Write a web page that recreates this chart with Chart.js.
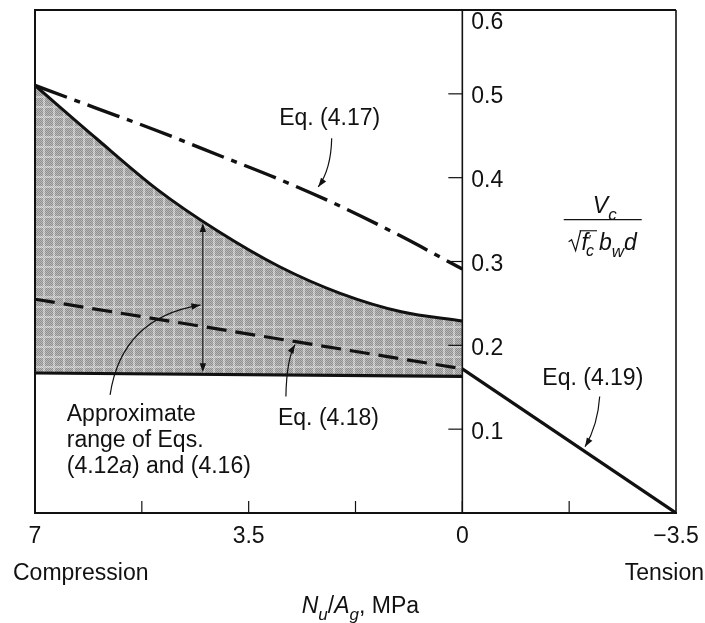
<!DOCTYPE html>
<html>
<head>
<meta charset="utf-8">
<title>Vc versus Nu/Ag</title>
<script src="https://cdn.jsdelivr.net/npm/chart.js@4.4.1/dist/chart.umd.min.js"></script>
<style>
  html, body { margin: 0; padding: 0; background: #fff; }
  canvas { display: block; }
</style>
</head>
<body>
<canvas id="chart" width="705" height="623"></canvas>
<script>
// axial stress Nu/Ag (MPa), compression positive
const NU_AG = [7, 6, 5, 4, 3, 2, 1, 0];
const EQ_417 = [0.51, 0.483, 0.456, 0.427, 0.398, 0.366, 0.330, 0.291];
const RANGE_UPPER = [0.51, 0.447, 0.386, 0.336, 0.294, 0.262, 0.240, 0.229];

const RANGE_LOWER_X = [7, 0];
const RANGE_LOWER = [0.167, 0.163];

const EQ_418_X = [7, 0];
const EQ_418 = [0.255, 0.172];

const EQ_419_X = [0, -3.5];
const EQ_419 = [0.172, 0];

const X_TICKS = [7, 5.25, 3.5, 1.75, 0, -1.75, -3.5];
const X_LABELS = ['7', '', '3.5', '', '0', '', '\u22123.5'];
const Y_TICKS = [0.1, 0.2, 0.3, 0.4, 0.5, 0.6];
const Y_LABELS = ['0.1', '0.2', '0.3', '0.4', '0.5', '0.6'];

const FONT = '"Liberation Sans", Arial, Helvetica, sans-serif';
const INK = '#111';

function points(xs, ys) {
    return xs.map((x, i) => ({ x: x, y: ys[i] }));
}

// grey plaid screen used for the shaded band
function makeScreen() {
    const c = document.createElement('canvas');
    c.width = 10;
    c.height = 10;
    const g = c.getContext('2d');
    g.fillStyle = '#b9b9b9';
    g.fillRect(0, 0, 10, 10);
    for (let i = 0; i < 10; i++) {
        for (let j = 0; j < 10; j++) {
            if ((i + j) % 2 === 0) {
                g.fillStyle = '#8e8e8e';
                g.fillRect(i, j, 1, 1);
            }
            if (i === 3 || i === 4 || j === 6 || j === 7) {
                g.fillStyle = (i + j) % 2 === 0 ? '#b4b4b4' : '#d8d8d8';
                g.fillRect(i, j, 1, 1);
            }
        }
    }
    return g.createPattern(c, 'repeat');
}

function setFont(ctx, size, italic) {
    ctx.font = (italic ? 'italic ' : '') + size + 'px ' + FONT;
}

// text made of runs: {t, it, sub, sup}; returns width
function drawRuns(ctx, runs, x, y, size, measureOnly) {
    let cx = x;
    for (const r of runs) {
        const s = (r.sub || r.sup) ? Math.round(size * 0.72) : size;
        setFont(ctx, s, r.it);
        const dy = r.sub ? size * 0.3 : (r.sup ? -size * 0.4 : 0);
        if (!measureOnly) ctx.fillText(r.t, cx, y + dy);
        cx += ctx.measureText(r.t).width;
    }
    return cx - x;
}

function arrowHead(ctx, fromX, fromY, toX, toY) {
    const a = Math.atan2(toY - fromY, toX - fromX);
    const len = 9, half = 3.2;
    ctx.beginPath();
    ctx.moveTo(toX, toY);
    ctx.lineTo(toX - len * Math.cos(a) + half * Math.sin(a), toY - len * Math.sin(a) - half * Math.cos(a));
    ctx.lineTo(toX - len * Math.cos(a) - half * Math.sin(a), toY - len * Math.sin(a) + half * Math.cos(a));
    ctx.closePath();
    ctx.fill();
}

function curvedArrow(ctx, xs, ys, p0, c, p1) {
    const x0 = xs.getPixelForValue(p0[0]), y0 = ys.getPixelForValue(p0[1]);
    const cx = xs.getPixelForValue(c[0]), cy = ys.getPixelForValue(c[1]);
    const x1 = xs.getPixelForValue(p1[0]), y1 = ys.getPixelForValue(p1[1]);
    ctx.beginPath();
    ctx.moveTo(x0, y0);
    ctx.quadraticCurveTo(cx, cy, x1, y1);
    ctx.stroke();
    arrowHead(ctx, cx, cy, x1, y1);
}

function label(ctx, xs, ys, text, x, y) {
    setFont(ctx, 23, false);
    ctx.textAlign = 'left';
    ctx.textBaseline = 'alphabetic';
    ctx.fillText(text, xs.getPixelForValue(x), ys.getPixelForValue(y));
}

const framePlugin = {
    id: 'frame',
    afterDraw(chart) {
        const ctx = chart.ctx;
        const area = chart.chartArea;
        const xs = chart.scales.x;
        const ys = chart.scales.y;
        const axisX = xs.getPixelForValue(0);

        ctx.save();
        ctx.strokeStyle = INK;
        ctx.fillStyle = INK;

        // outer box
        ctx.lineWidth = 2;
        ctx.beginPath();
        ctx.moveTo(area.left, area.bottom);
        ctx.lineTo(area.left, area.top);
        ctx.lineTo(area.right, area.top);
        ctx.stroke();
        ctx.lineWidth = 1.6;
        ctx.beginPath();
        ctx.moveTo(area.right, area.top);
        ctx.lineTo(area.right, area.bottom);
        ctx.stroke();
        ctx.lineWidth = 2.2;
        ctx.beginPath();
        ctx.moveTo(area.left - 1, area.bottom);
        ctx.lineTo(area.right + 1, area.bottom);
        ctx.stroke();

        // vertical axis at Nu/Ag = 0
        ctx.lineWidth = 1.6;
        ctx.beginPath();
        ctx.moveTo(axisX, area.top);
        ctx.lineTo(axisX, area.bottom);
        ctx.stroke();

        // y ticks (pointing left) and labels (right of axis)
        setFont(ctx, 23, false);
        ctx.textAlign = 'left';
        ctx.textBaseline = 'middle';
        ctx.lineWidth = 1.2;
        Y_TICKS.forEach((v, i) => {
            const y = ys.getPixelForValue(v);
            if (y > area.top + 2) {
                ctx.beginPath();
                ctx.moveTo(axisX - 14, y);
                ctx.lineTo(axisX, y);
                ctx.stroke();
            }
            ctx.fillText(Y_LABELS[i], axisX + 9, Math.max(y + 3, area.top + 13));
        });

        // x ticks (pointing up) and labels
        ctx.textAlign = 'center';
        ctx.textBaseline = 'alphabetic';
        X_TICKS.forEach((v, i) => {
            const x = xs.getPixelForValue(v);
            if (x > area.left + 2 && x < area.right - 2) {
                ctx.beginPath();
                ctx.moveTo(x, area.bottom);
                ctx.lineTo(x, area.bottom - 12);
                ctx.stroke();
            }
            if (X_LABELS[i]) ctx.fillText(X_LABELS[i], x, area.bottom + 30);
        });

        ctx.textAlign = 'left';
        ctx.fillText('Compression', 13, area.bottom + 67);
        ctx.textAlign = 'right';
        ctx.fillText('Tension', 704, area.bottom + 67);

        // axis title N_u/A_g, MPa
        ctx.textAlign = 'left';
        const titleRuns = [
            { t: 'N', it: true }, { t: 'u', it: true, sub: true }, { t: '/' },
            { t: 'A', it: true }, { t: 'g', it: true, sub: true }, { t: ', MPa' }
        ];
        const tw = drawRuns(ctx, titleRuns, 0, 0, 23, true);
        drawRuns(ctx, titleRuns, xs.getPixelForValue(1.67) - tw / 2, area.bottom + 100, 23);

        // ordinate label Vc / (sqrt(f'c) bw d)
        const cxV = xs.getPixelForValue(-2.3);
        const numRuns = [{ t: 'V', it: true }, { t: 'c', it: true, sub: true }];
        const nw = drawRuns(ctx, numRuns, 0, 0, 23, true);
        drawRuns(ctx, numRuns, cxV - nw / 2 + 2, ys.getPixelForValue(0.358), 23);
        const barY = ys.getPixelForValue(0.350);
        ctx.lineWidth = 1.3;
        ctx.beginPath();
        ctx.moveTo(cxV - 39, barY);
        ctx.lineTo(cxV + 39, barY);
        ctx.stroke();

        const denY = ys.getPixelForValue(0.314);
        setFont(ctx, 23, true);
        const fW = ctx.measureText('f').width;
        setFont(ctx, 16, true);
        const scW = ctx.measureText('c').width;
        const restRuns = [{ t: 'b', it: true }, { t: 'w', it: true, sub: true }, { t: 'd', it: true }];
        const restW = drawRuns(ctx, restRuns, 0, 0, 23, true);
        const rootW = 13;
        const denW = rootW + fW + scW + 3 + restW;
        let dx = cxV - denW / 2;
        const topY = denY - 19;
        // radical sign drawn as strokes
        ctx.lineWidth = 1.2;
        ctx.beginPath();
        ctx.moveTo(dx, denY - 8);
        ctx.lineTo(dx + 3, denY - 10);
        ctx.lineTo(dx + 7, denY + 1);
        ctx.lineTo(dx + 12, topY);
        ctx.stroke();
        dx += rootW;
        const vincStart = dx - 1;
        setFont(ctx, 23, true);
        ctx.fillText('f', dx, denY);
        dx += fW;
        setFont(ctx, 14, true);
        ctx.fillText('\u2032', dx, denY - 5);
        setFont(ctx, 16, true);
        ctx.fillText('c', dx - 2, denY + 6);
        dx += scW + 1;
        ctx.lineWidth = 1.1;
        ctx.beginPath();
        ctx.moveTo(vincStart - 1, topY);
        ctx.lineTo(dx, topY);
        ctx.stroke();
        dx += 2;
        drawRuns(ctx, restRuns, dx, denY, 23);

        // equation labels and leaders
        ctx.lineWidth = 1.2;
        label(ctx, xs, ys, 'Eq. (4.17)', 3.0, 0.463);
        curvedArrow(ctx, xs, ys, [2.14, 0.447], [2.15, 0.41], [2.36, 0.389]);

        label(ctx, xs, ys, 'Eq. (4.18)', 3.02, 0.105);
        curvedArrow(ctx, xs, ys, [2.89, 0.139], [2.88, 0.183], [2.74, 0.201]);

        label(ctx, xs, ys, 'Eq. (4.19)', -1.31, 0.153);
        curvedArrow(ctx, xs, ys, [-2.25, 0.139], [-2.22, 0.105], [-2.01, 0.079]);

        setFont(ctx, 23, false);
        ctx.textAlign = 'left';
        const lx = xs.getPixelForValue(6.48);
        ctx.fillText('Approximate', lx, ys.getPixelForValue(0.110));
        ctx.fillText('range of Eqs.', lx, ys.getPixelForValue(0.079));
        drawRuns(ctx, [{ t: '(4.12' }, { t: 'a', it: true }, { t: ') and (4.16)' }],
            lx, ys.getPixelForValue(0.048), 23);
        curvedArrow(ctx, xs, ys, [5.77, 0.141], [5.58, 0.233], [4.29, 0.248]);

        // double-headed arrow spanning the band
        const ax = xs.getPixelForValue(4.25);
        const aTop = ys.getPixelForValue(0.346);
        const aBot = ys.getPixelForValue(0.168);
        ctx.beginPath();
        ctx.moveTo(ax, aTop + 4);
        ctx.lineTo(ax, aBot - 4);
        ctx.stroke();
        arrowHead(ctx, ax, aTop + 20, ax, aTop);
        arrowHead(ctx, ax, aBot - 20, ax, aBot);

        ctx.restore();
    }
};

const ctx = document.getElementById('chart').getContext('2d');

new Chart(ctx, {
    type: 'line',
    data: {
        datasets: [
            {
                label: 'range lower',
                data: points(RANGE_LOWER_X, RANGE_LOWER),
                borderColor: INK,
                borderWidth: 3.2,
                fill: false
            },
            {
                label: 'range upper',
                data: points(NU_AG, RANGE_UPPER),
                borderColor: INK,
                borderWidth: 3,
                cubicInterpolationMode: 'monotone',
                backgroundColor: makeScreen(),
                fill: { target: 0 }
            },
            {
                label: 'Eq. (4.18)',
                data: points(EQ_418_X, EQ_418),
                borderColor: INK,
                borderWidth: 3.2,
                borderDash: [20, 9],
                fill: false
            },
            {
                label: 'Eq. (4.17)',
                data: points(NU_AG, EQ_417),
                borderColor: INK,
                borderWidth: 3.4,
                borderDash: [34, 8, 6, 8],
                cubicInterpolationMode: 'monotone',
                fill: false
            },
            {
                label: 'Eq. (4.19)',
                data: points(EQ_419_X, EQ_419),
                borderColor: INK,
                borderWidth: 3.2,
                fill: false
            }
        ]
    },
    options: {
        responsive: false,
        animation: false,
        layout: { padding: { left: 35, right: 29, top: 10, bottom: 110 } },
        elements: { point: { radius: 0, hoverRadius: 0 } },
        plugins: {
            legend: { display: false },
            tooltip: { enabled: false },
            filler: { drawTime: 'beforeDatasetsDraw' }
        },
        scales: {
            x: { type: 'linear', min: -3.5, max: 7, reverse: true, display: false },
            y: { type: 'linear', min: 0, max: 0.6, display: false }
        }
    },
    plugins: [framePlugin]
});
</script>
</body>
</html>
